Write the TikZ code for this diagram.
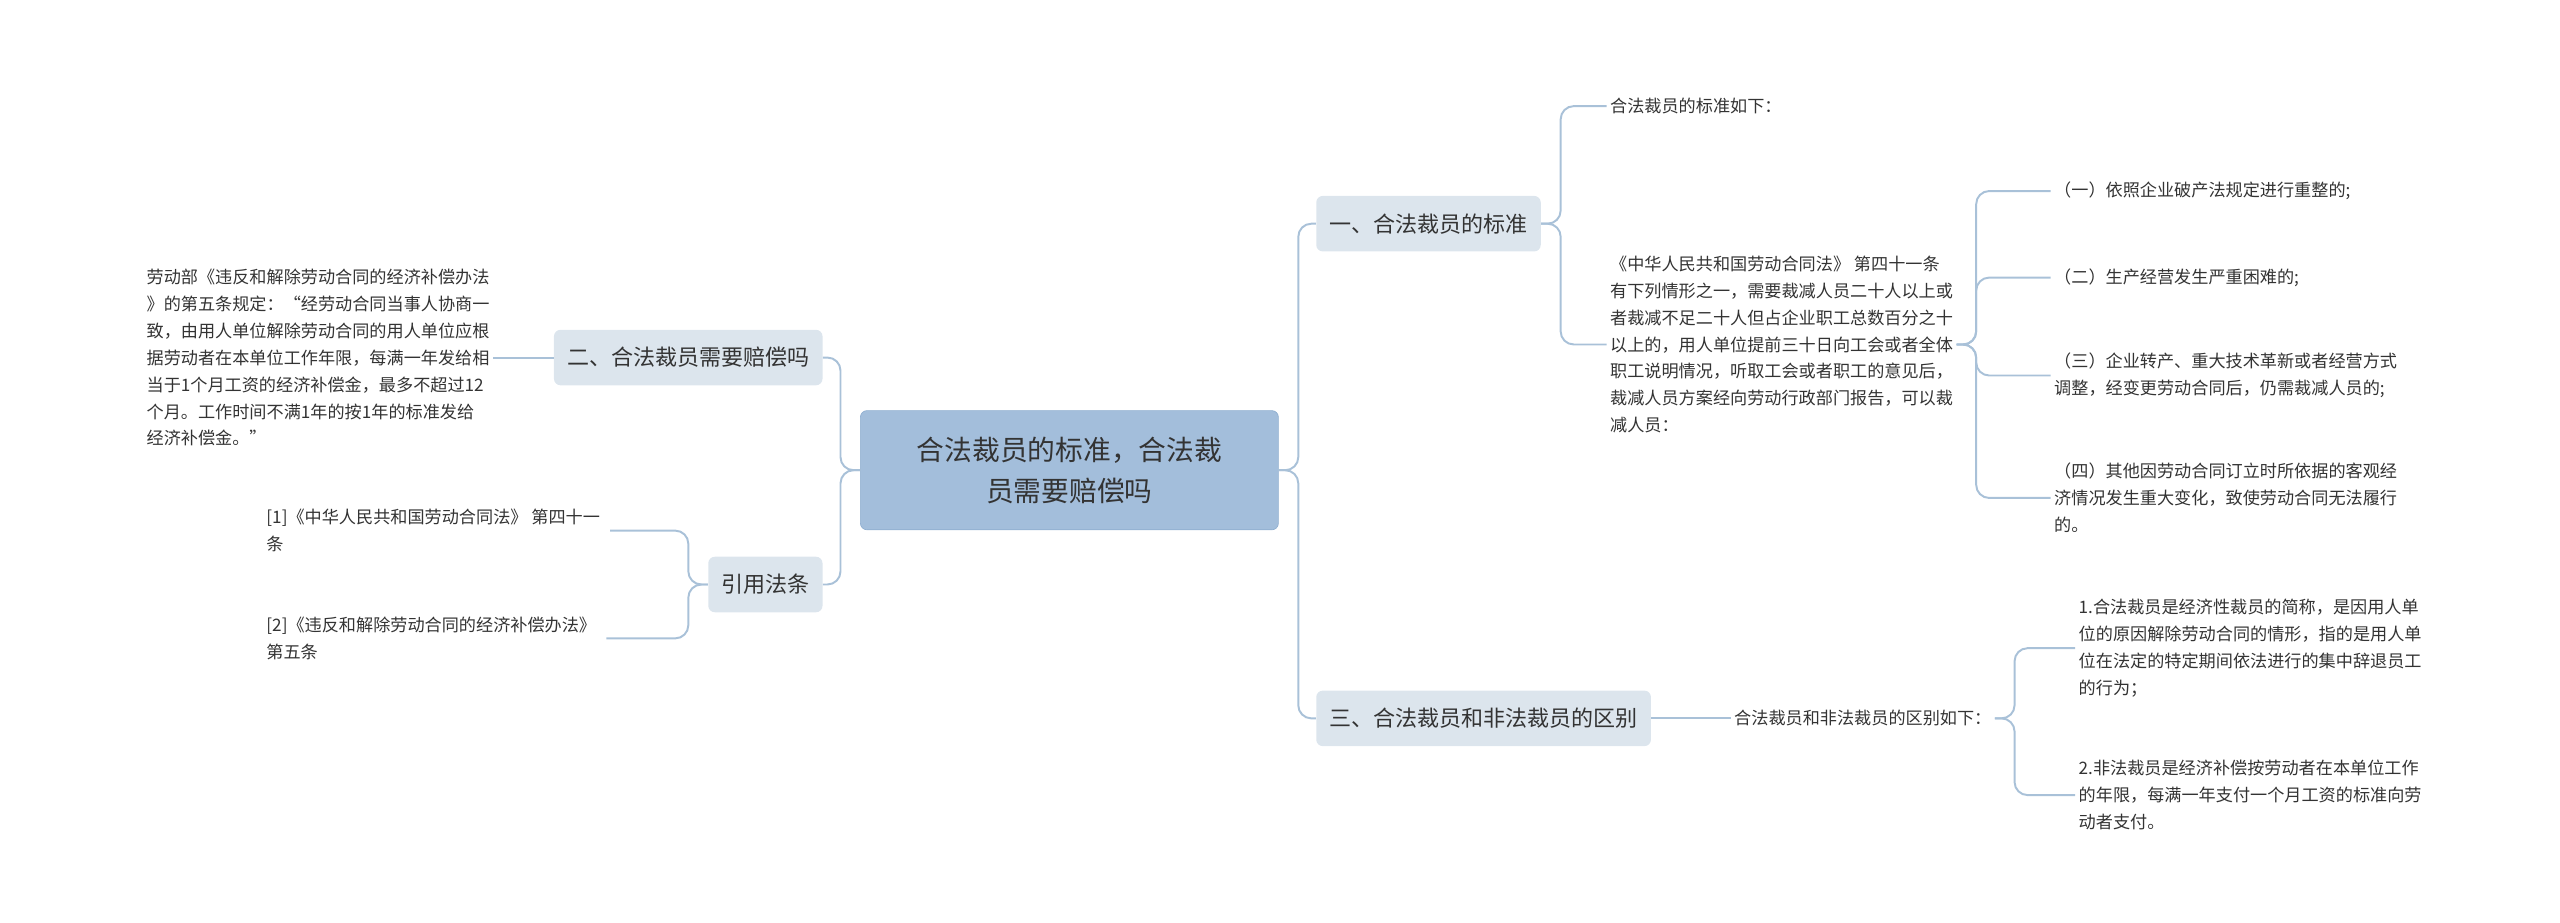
\documentclass[tikz,border=0pt]{standalone}
\usepackage{fontspec}
\setmainfont{Noto Sans CJK SC}
\definecolor{ln}{HTML}{A9C1D8}
\definecolor{bx}{HTML}{DCE5ED}
\definecolor{rt}{HTML}{A3BEDB}
\definecolor{rtb}{HTML}{8EAED0}
\definecolor{tx}{HTML}{333333}
\tikzset{
 x=1pt,y=-1pt,
 rootbox/.style={fill=rt,draw=rtb,rounded corners=4pt,minimum width=256pt,minimum height=73pt,align=center,font=\fontsize{17}{25}\selectfont,text=tx},
 topic/.style={fill=bx,rounded corners=4pt,minimum height=34pt,inner xsep=8pt,font=\fontsize{13.5}{16}\selectfont,text=tx},
 leaf/.style={anchor=west,align=left,inner sep=2pt,font=\fontsize{10.5}{16.5}\selectfont,text=tx},
 conn/.style={draw=ln,line width=1.2pt,rounded corners=8pt},
}
\begin{document}
\begin{tikzpicture}
\useasboundingbox (0,0) rectangle (1568,565);
\node[rootbox] (root) at (655,288) {合法裁员的标准，合法裁\\员需要赔偿吗};
\node[topic,anchor=west] (b1) at (806,137) {一、合法裁员的标准};
\node[topic,anchor=west] (b3) at (806,440) {三、合法裁员和非法裁员的区别};
\node[topic,anchor=east] (b2) at (504,219) {二、合法裁员需要赔偿吗};
\node[topic,anchor=east] (b4) at (504,358) {引用法条};

\node[leaf] (l1) at (984,65) {合法裁员的标准如下：};
\node[leaf] (l2) at (984,211) {《中华人民共和国劳动合同法》 第四十一条\\有下列情形之一，需要裁减人员二十人以上或\\者裁减不足二十人但占企业职工总数百分之十\\以上的，用人单位提前三十日向工会或者全体\\职工说明情况，听取工会或者职工的意见后，\\裁减人员方案经向劳动行政部门报告，可以裁\\减人员：};
\node[leaf] (s1) at (1256,117) {（一）依照企业破产法规定进行重整的;};
\node[leaf] (s2) at (1256,170) {（二）生产经营发生严重困难的;};
\node[leaf] (s3) at (1256,230) {（三）企业转产、重大技术革新或者经营方式\\调整，经变更劳动合同后，仍需裁减人员的;};
\node[leaf] (s4) at (1256,305) {（四）其他因劳动合同订立时所依据的客观经\\济情况发生重大变化，致使劳动合同无法履行\\的。};
\node[leaf] (l3) at (1060,440) {合法裁员和非法裁员的区别如下：};
\node[leaf] (d1) at (1271,397) {1.合法裁员是经济性裁员的简称，是因用人单\\位的原因解除劳动合同的情形，指的是用人单\\位在法定的特定期间依法进行的集中辞退员工\\的行为；};
\node[leaf] (d2) at (1271,487) {2.非法裁员是经济补偿按劳动者在本单位工作\\的年限，每满一年支付一个月工资的标准向劳\\动者支付。};
\node[leaf,anchor=east] (l4) at (302,219) {劳动部《违反和解除劳动合同的经济补偿办法\\》的第五条规定：“经劳动合同当事人协商一\\致，由用人单位解除劳动合同的用人单位应根\\据劳动者在本单位工作年限，每满一年发给相\\当于1个月工资的经济补偿金，最多不超过12\\个月。工作时间不满1年的按1年的标准发给\\经济补偿金。”};
\node[leaf] (r1) at (161,325) {[1]《中华人民共和国劳动合同法》 第四十一\\条};
\node[leaf] (r2) at (161,391) {[2]《违反和解除劳动合同的经济补偿办法》\\第五条};

\foreach \c in {b1,b3} \draw[conn] (root.east) -- ++(12,0) |- (\c.west);
\foreach \c in {b2,b4} \draw[conn] (root.west) -- ++(-12,0) |- (\c.east);
\foreach \c in {l1,l2} \draw[conn] (b1.east) -- ++(12,0) |- (\c.west);
\draw[conn] (b3.east) -- (l3.west);
\foreach \c in {s1,s2,s3,s4} \draw[conn] (l2.east) -- ++(12,0) |- (\c.west);
\foreach \c in {d1,d2} \draw[conn] (l3.east) -- ++(12,0) |- (\c.west);
\draw[conn] (b2.west) -- (l4.east);
\foreach \c in {r1,r2} \draw[conn] (b4.west) -- ++(-12,0) |- ([xshift=4pt]\c.east);
\end{tikzpicture}
\end{document}
